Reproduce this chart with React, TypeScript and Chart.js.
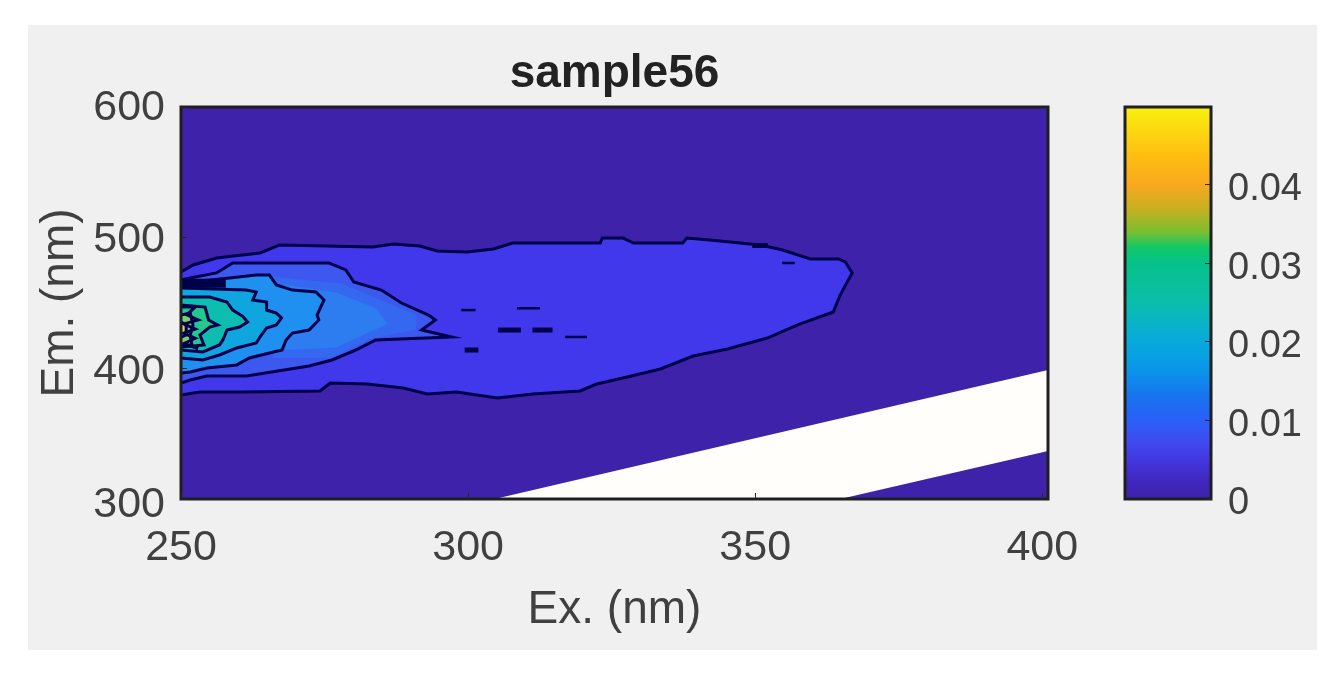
import React, { useEffect, useRef } from "react";
import { Chart, registerables } from "chart.js";

Chart.register(...registerables);

type Pair = [number, number];

const chartTitle = "sample56";
const xLabel = "Ex. (nm)";
const yLabel = "Em. (nm)";

const field: Pair[] = [[250,300],[401,300],[401,600],[250,600]];
const level1: Pair[] = [[250,379.6],[253.3,381.9],[260.7,381.9],[274.2,382.7],[276,388.8],[282.4,388],[288.7,384.9],[292.9,380.4],[298,381.9],[300.4,380.4],[305.1,377.3],[311.3,380.4],[319.5,382.7],[322.4,388],[327.7,393.4],[333.5,399.5],[339.2,409.4],[345.2,414.8],[352.1,423.2],[357.4,433.2],[363.6,443.1],[364.8,456.1],[366.9,473],[365.7,481.4],[364.5,483.7],[359.6,483.7],[354.8,490.6],[350.9,494.4],[342.1,498.2],[338.1,499.7],[337.4,495.9],[328.8,495.9],[327,499.7],[323.4,499.7],[323,495.9],[307.8,495.9],[304.4,491.3],[299.8,489],[294.6,489.8],[291.6,493.6],[287,495.1],[283.4,492.9],[267.2,494.4],[263.8,488.3],[259.1,486],[256.2,484.4],[252.1,479.1],[250,473.7]];
const level2: Pair[] = [[250,388.8],[251.6,391.1],[254.5,394.1],[261.4,394.1],[270.1,400.3],[272.3,401.8],[276.3,406.4],[280.4,414],[283.9,421.7],[297.1,424],[291.9,429.3],[294.3,437],[293.1,440.8],[288.4,450],[284.9,459.9],[280.1,466.1],[278.7,475.3],[275.8,480.6],[259,480.6],[256.2,473],[251.6,469.1],[250,467.6]];
const level3: Pair[] = [[250,396.4],[251.6,397.2],[254.5,400.3],[259.7,402.6],[261.9,407.9],[265.4,411.7],[267.6,414],[268.3,421.7],[269.4,427],[272.3,429.3],[274,437],[273.7,440.8],[274.9,452.3],[273.5,458.4],[269.4,459.9],[266.6,463.8],[265.4,471.4],[263.1,471.4],[258.5,469.1],[250,465.3]];
const level4: Pair[] = [[250,407.9],[253.8,406.4],[256.7,410.2],[259.7,415.6],[263.1,419.4],[264,425.5],[264.9,430.9],[266.6,433.2],[267.5,438.5],[266.6,442.3],[264.9,444.6],[264.9,450.8],[262.5,452.3],[263.1,458.4],[261.4,459.9],[250,461.5]];
const level5: Pair[] = [[250,414],[253.8,412.5],[256.7,417.9],[257.3,421.7],[258,429.3],[260.2,431.6],[261.6,435.5],[260.7,440],[259,444.6],[258,450.8],[255,454.6],[250,454.6]];
const level6: Pair[] = [[250,416.3],[254,417.9],[253.3,425.5],[255,431.6],[256.4,433.2],[254.8,437],[254.2,446.9],[250,448.5]];
const level7: Pair[] = [[250,417.9],[251.9,417.9],[251.6,425.5],[252.1,433.2],[251.6,442.3],[250,440.8]];
const level8: Pair[] = [[250,424],[250.9,425.5],[250.9,433.2],[250,435.5]];
const haloOuter: Pair[] = [[266,408],[276,408],[283,422.5],[291,430],[291,441],[285,452],[278,465],[266,470]];
const haloInner: Pair[] = [[268,414],[277,416],[282,426],[286,434],[284,446],[277,458],[268,464]];
const noData: Pair[] = [[304.6,300],[401,398.7],[401,336.7],[364.8,300]];

const band: Pair[] = [[250,465.2],[257.8,465.2]];
const hatch: Pair[] = [[250,447],[252.5,447],[251,441],[253,437],[250.5,434],[252.5,430],[250.5,427],[252.5,423],[250.5,419],[253,415]];
const dashes: Pair[][] = [
  [[298.8,444.6],[301.3,444.6]],
  [[308.5,446],[312.5,446]],
  [[305.2,429.3],[309.2,429.3]],
  [[311.2,429.3],[314.7,429.3]],
  [[316.9,424],[320.7,424]],
  [[299.4,414],[301.8,414]],
  [[354.7,480.6],[356.9,480.6]],
  [[349.5,494],[352.2,494]],
];

const xTicks = [250, 300, 350, 400];
const yTicks = [300, 400, 500, 600];

const colorStops = [0, 0.0025, 0.005, 0.0075, 0.01, 0.0125, 0.0165, 0.02, 0.0255, 0.03, 0.032, 0.034, 0.037, 0.04, 0.044, 0.0499];
const colorValues = ["#3d22a8", "#4128c0", "#4338e0", "#3f4cf0", "#2a60f8", "#1a6ff0", "#0a96e8", "#07aadd", "#0bbfa8", "#06c08a", "#10c868", "#7abf30", "#c8b020", "#f8a820", "#ffc010", "#f8f010"];
const colorbarTicks = [0, 0.01, 0.02, 0.03, 0.04];

const BG = "#3e22a9";
const LINE = "#00004a";
const TEXT = "#404040";
const FONT = "'Liberation Sans', Arial, sans-serif";

const pts = (p: Pair[]) => p.map(([x, y]) => ({ x, y }));
const poly = (p: Pair[], color: string, stroke = true, width = 3) => ({
  data: pts(p), showLine: true, fill: "shape", backgroundColor: color,
  borderColor: stroke ? LINE : "transparent", borderWidth: stroke ? width : 0,
  pointRadius: 0, tension: 0,
});
const dash = (p: Pair[], width: number) => ({
  data: pts(p), showLine: true, fill: false, borderColor: LINE, borderWidth: width, pointRadius: 0,
});

const frame = {
  id: "frame",
  afterDatasetsDraw(chart: any) {
    const { ctx, chartArea: a } = chart;
    ctx.save();
    ctx.strokeStyle = "#1f1f1f";
    ctx.lineWidth = 3;
    ctx.strokeRect(a.left, a.top, a.right - a.left, a.bottom - a.top);
    ctx.restore();
  },
};

export default function App() {
  const mainRef = useRef<HTMLCanvasElement>(null);
  const barRef = useRef<HTMLCanvasElement>(null);

  useEffect(() => {
    const list: any[] = [
      poly(field, BG, false),
      poly(noData, "#fffefb", false),
      poly(level1, "#4038ea"),
      poly(level2, "#3c58ee"),
      poly(haloOuter, "#3568f0", false),
      poly(haloInner, "#2d7cf0", false),
      poly(level3, "#1f8ff0"),
      poly(level4, "#0fa6e0"),
      poly(level5, "#0cbdb0"),
      poly(level6, "#22c88c"),
      poly(level7, "#78d070"),
      poly(level8, "#d8d070"),
      dash(band, 9),
      dash(hatch, 3),
      ...dashes.map((d, i) => dash(d, i === 2 || i === 3 || i === 5 || i === 7 ? 5 : 2.5)),
    ];
    list.forEach((d, i) => (d.order = list.length - i));

    const main = new Chart(mainRef.current!, {
      type: "scatter",
      data: { datasets: list },
      plugins: [frame],
      options: {
        responsive: false,
        animation: false,
        events: [],
        layout: { padding: { left: 0, right: 289, top: 0, bottom: 31 } },
        plugins: {
          legend: { display: false },
          tooltip: { enabled: false },
          title: {
            display: true, text: chartTitle, color: "#222222", fullSize: false,
            font: { family: FONT, size: 46, weight: "bold", lineHeight: 1.2 },
            padding: { top: 46.5, bottom: 5.3 },
          },
        },
        scales: {
          x: {
            type: "linear", min: 250, max: 401,
            afterFit: (s: any) => { s.height = 145; },
            afterBuildTicks: (s: any) => { s.ticks = xTicks.map((value) => ({ value })); },
            grid: { drawOnChartArea: false, tickLength: -6, color: "#262626", z: 1 },
            border: { display: false },
            ticks: { color: TEXT, padding: 29, maxRotation: 0, font: { family: FONT, size: 43 } },
            title: { display: true, text: xLabel, color: TEXT, font: { family: FONT, size: 46 }, padding: { top: 0, bottom: 6.4 } },
          },
          y: {
            type: "linear", min: 300, max: 600, weight: 0,
            afterFit: (s: any) => { s.width = 0; },
            afterBuildTicks: (s: any) => { s.ticks = yTicks.map((value) => ({ value })); },
            grid: { drawOnChartArea: false, tickLength: -6, color: "#262626", z: 1 },
            border: { display: false },
            ticks: { display: false },
          },
          yLabels: {
            type: "linear", position: "left", min: 304.5, max: 600.76, weight: 1,
            afterFit: (s: any) => { s.width = 181; },
            afterBuildTicks: (s: any) => { s.ticks = yTicks.map((value) => ({ value })); },
            grid: { display: false },
            border: { display: false },
            ticks: { color: TEXT, padding: 8, font: { family: FONT, size: 43 } },
            title: { display: true, text: yLabel, color: TEXT, font: { family: FONT, size: 46 }, padding: { top: 33, bottom: 0 } },
          },
        },
      },
    } as any);

    const top = colorStops[colorStops.length - 1];
    const colorbar = new Chart(barRef.current!, {
      type: "bar",
      data: {
        labels: [""],
        datasets: [{
          data: [top],
          barPercentage: 1,
          categoryPercentage: 1,
          backgroundColor: (c: any) => {
            const { chart } = c;
            if (!chart.chartArea) return colorValues[0];
            const scale = chart.scales.y;
            const g = chart.ctx.createLinearGradient(0, scale.getPixelForValue(0), 0, scale.getPixelForValue(top));
            colorStops.forEach((v, i) => g.addColorStop(v / top, colorValues[i]));
            return g;
          },
        }],
      },
      plugins: [frame],
      options: {
        responsive: false,
        animation: false,
        events: [],
        layout: { padding: { left: 1125, right: 0, top: 107, bottom: 176 } },
        plugins: { legend: { display: false }, tooltip: { enabled: false } },
        scales: {
          x: { display: false },
          y: {
            position: "right", min: 0, max: top, weight: 0,
            afterFit: (s: any) => { s.width = 0; },
            afterBuildTicks: (s: any) => { s.ticks = colorbarTicks.map((value) => ({ value })); },
            grid: { drawOnChartArea: false, tickLength: -6, color: "#262626", z: 1 },
            border: { display: false },
            ticks: { display: false },
          },
          yLabels: {
            type: "linear", position: "right", min: 0.0006, max: top + 0.0006, weight: 1,
            afterFit: (s: any) => { s.width = 126; },
            afterBuildTicks: (s: any) => { s.ticks = colorbarTicks.map((value) => ({ value })); },
            grid: { display: false },
            border: { display: false },
            ticks: {
              color: TEXT, padding: 9, font: { family: FONT, size: 38 },
              callback: (v: any) => (Number(v) === 0 ? "0" : Number(v).toFixed(2)),
            },
          },
        },
      },
    } as any);

    return () => { main.destroy(); colorbar.destroy(); };
  }, []);

  const layer: React.CSSProperties = { position: "absolute", left: 0, top: 0, filter: "blur(0.6px)" };
  return (
    <div style={{ position: "absolute", left: 0, top: 0, width: 1337, height: 675, background: "#ffffff", overflow: "hidden" }}>
      <div style={{ position: "absolute", left: 28, top: 25, width: 1289, height: 625, background: "#f0f0f0" }} />
      <canvas ref={mainRef} width={1337} height={675} style={layer} />
      <canvas ref={barRef} width={1337} height={675} style={layer} />
    </div>
  );
}
